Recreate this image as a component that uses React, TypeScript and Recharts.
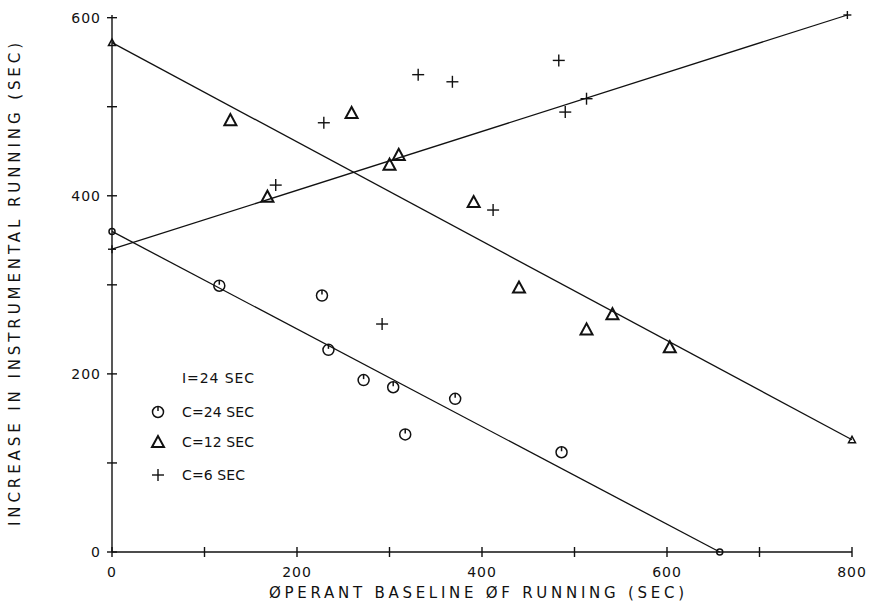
import React from "react";
import { ScatterChart, Scatter, XAxis, YAxis, Legend } from "recharts";

const c24X = [116, 227, 234, 272, 304, 317, 371, 486];
const c24Y = [299, 288, 227, 193, 185, 132, 172, 112];
const c12X = [128, 168, 259, 300, 310, 391, 440, 513, 541, 603];
const c12Y = [485, 399, 493, 435, 446, 393, 297, 250, 267, 230];
const c6X = [177, 229, 292, 331, 368, 412, 483, 490, 513];
const c6Y = [412, 482, 256, 536, 528, 384, 552, 494, 509];

// fitted line end points
const fit24X = [0, 657];
const fit24Y = [360, 0];
const fit12X = [0, 800];
const fit12Y = [572, 126];
const fit6X = [0, 795];
const fit6Y = [340, 603];

const xTicks = [0, 100, 200, 300, 400, 500, 600, 700, 800];
const yTicks = [0, 100, 200, 300, 400, 500, 600];
const legendItems = ["C=24 SEC", "C=12 SEC", "C=6 SEC"];

const INK = "#111";
const FONT = "'DejaVu Sans', sans-serif";

const zip = (xs: number[], ys: number[]) => xs.map((x, i) => ({ x, y: ys[i] }));

function CircleMark({ cx, cy, r = 5.5 }: any) {
  return (
    <g stroke={INK} fill="none" strokeWidth={1.5}>
      <circle cx={cx} cy={cy} r={r} />
      {r > 4 && <line x1={cx} y1={cy - r} x2={cx} y2={cy - 1} />}
    </g>
  );
}

function TriMark({ cx, cy, s = 6 }: any) {
  return (
    <polygon
      points={`${cx},${cy - s} ${cx - s},${cy + s * 0.85} ${cx + s},${cy + s * 0.85}`}
      fill="none"
      stroke={INK}
      strokeWidth={s > 4 ? 2 : 1.5}
      strokeLinejoin="miter"
    />
  );
}

function PlusMark({ cx, cy, s = 6 }: any) {
  return (
    <g stroke={INK} strokeWidth={1.4}>
      <line x1={cx - s} y1={cy} x2={cx + s} y2={cy} />
      <line x1={cx} y1={cy - s} x2={cx} y2={cy + s} />
    </g>
  );
}

function XTick({ x, y, payload }: any) {
  const v = payload.value;
  return (
    <g>
      <line x1={x} y1={y - 5} x2={x} y2={y + 5} stroke={INK} strokeWidth={1.4} />
      {v % 200 === 0 && (
        <text x={x} y={y + 25} textAnchor="middle" fontFamily={FONT} fontSize={14} fill={INK} letterSpacing={1}>
          {v}
        </text>
      )}
    </g>
  );
}

function YTick({ x, y, payload }: any) {
  const v = payload.value;
  return (
    <g>
      <line x1={x - 5} y1={y} x2={x + 5} y2={y} stroke={INK} strokeWidth={1.4} />
      {v % 200 === 0 && (
        <text x={x - 11} y={y + 5} textAnchor="end" fontFamily={FONT} fontSize={14} fill={INK} letterSpacing={1}>
          {v}
        </text>
      )}
    </g>
  );
}

function LegendBox() {
  const marks = [CircleMark, TriMark, PlusMark];
  return (
    <svg width={140} height={125} style={{ display: "block" }}>
      <text x={34} y={19} fontFamily={FONT} fontSize={14} fill={INK} textLength={72} lengthAdjust="spacing">
        I=24 SEC
      </text>
      {legendItems.map((label, i) => {
        const Mark = marks[i];
        const cy = [48, 78, 111][i];
        return (
          <g key={label}>
            <Mark cx={10} cy={cy} />
            <text x={34} y={cy + 5} fontFamily={FONT} fontSize={14} fill={INK} textLength={label.length * 9} lengthAdjust="spacing">
              {label}
            </text>
          </g>
        );
      })}
    </svg>
  );
}

export default function App() {
  return (
    <div style={{ position: "absolute", left: 0, top: 0, background: "#fff" }}>
      <ScatterChart width={872} height={609} margin={{ top: 15, right: 20, bottom: 7, left: 52 }}>
        <XAxis
          type="number"
          dataKey="x"
          domain={[0, 800]}
          ticks={xTicks}
          interval={0}
          tickSize={0}
          tickMargin={0}
          height={50}
          stroke={INK}
          strokeWidth={1.4}
          tick={<XTick />}
          label={{
            content: ({ viewBox }: any) => (
              <text
                x={viewBox.x + viewBox.width / 2 - 213}
                y={viewBox.y + 46}
                fontFamily={FONT}
                fontSize={15}
                fill={INK}
                textLength={415}
                lengthAdjust="spacing"
              >
                ØPERANT BASELINE ØF RUNNING (SEC)
              </text>
            ),
          }}
        />
        <YAxis
          type="number"
          dataKey="y"
          domain={[0, 600]}
          ticks={yTicks}
          interval={0}
          tickSize={0}
          tickMargin={0}
          width={60}
          stroke={INK}
          strokeWidth={1.4}
          tick={<YTick />}
          label={{
            content: () => (
              <text
                transform="translate(20, 526) rotate(-90)"
                x={0}
                y={0}
                fontFamily={FONT}
                fontSize={15}
                fill={INK}
                textLength={483}
                lengthAdjust="spacing"
              >
                INCREASE IN INSTRUMENTAL RUNNING (SEC)
              </text>
            ),
          }}
        />
        <Legend
          layout="horizontal"
          verticalAlign="middle"
          align="center"
          wrapperStyle={{ position: "absolute", left: 148, top: 364, width: 140 }}
          content={() => <LegendBox />}
        />
        <Scatter data={zip(fit24X, fit24Y)} line={{ stroke: INK, strokeWidth: 1.3 }} shape={(p: any) => <CircleMark cx={p.cx} cy={p.cy} r={3} />} isAnimationActive={false} />
        <Scatter data={zip(fit12X, fit12Y)} line={{ stroke: INK, strokeWidth: 1.3 }} shape={(p: any) => <TriMark cx={p.cx} cy={p.cy} s={3.5} />} isAnimationActive={false} />
        <Scatter data={zip(fit6X, fit6Y)} line={{ stroke: INK, strokeWidth: 1.3 }} shape={(p: any) => <PlusMark cx={p.cx} cy={p.cy} s={4} />} isAnimationActive={false} />
        <Scatter data={zip(c24X, c24Y)} shape={(p: any) => <CircleMark cx={p.cx} cy={p.cy} />} isAnimationActive={false} />
        <Scatter data={zip(c12X, c12Y)} shape={(p: any) => <TriMark cx={p.cx} cy={p.cy} />} isAnimationActive={false} />
        <Scatter data={zip(c6X, c6Y)} shape={(p: any) => <PlusMark cx={p.cx} cy={p.cy} />} isAnimationActive={false} />
      </ScatterChart>
    </div>
  );
}
